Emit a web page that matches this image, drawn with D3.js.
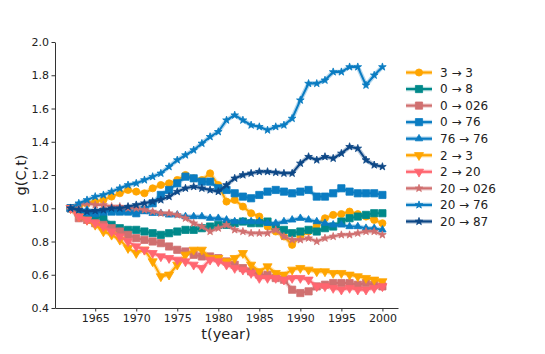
<!DOCTYPE html>
<html>
<head>
<meta charset="utf-8">
<script src="https://cdn.jsdelivr.net/npm/d3@7"></script>
<style>
  body { margin: 0; background: #fff; }
  svg { font-family: "DejaVu Sans", sans-serif; }
</style>
</head>
<body>
<svg id="chart" width="545" height="354"></svg>
<script>
const years = d3.range(1962, 2001);

const s3to3 = [1.00,1.01,1.03,1.04,1.05,1.07,1.09,1.11,1.10,1.09,1.12,1.14,1.15,1.17,1.20,1.18,1.17,1.21,1.14,1.04,1.05,1.01,0.97,0.95,0.89,0.86,0.83,0.78,0.83,0.86,0.90,0.94,0.96,0.965,0.98,0.965,0.95,0.93,0.91];
const s0to8 = [1.00,0.97,0.96,0.95,0.94,0.90,0.88,0.87,0.87,0.86,0.85,0.84,0.85,0.86,0.87,0.87,0.88,0.89,0.90,0.90,0.91,0.92,0.91,0.91,0.92,0.89,0.87,0.85,0.86,0.87,0.86,0.88,0.89,0.92,0.94,0.95,0.96,0.97,0.97];
const s0to026 = [1.00,0.94,0.93,0.91,0.90,0.88,0.86,0.84,0.82,0.81,0.80,0.79,0.77,0.75,0.74,0.72,0.71,0.71,0.70,0.68,0.66,0.64,0.62,0.60,0.60,0.58,0.57,0.51,0.49,0.50,0.53,0.54,0.55,0.55,0.55,0.54,0.55,0.54,0.53];
const s0to76 = [1.00,0.98,0.97,0.97,0.98,0.98,0.98,0.98,0.97,0.99,1.03,1.08,1.11,1.15,1.19,1.18,1.16,1.16,1.12,1.11,1.09,1.07,1.06,1.08,1.10,1.11,1.10,1.09,1.10,1.11,1.07,1.07,1.09,1.12,1.10,1.09,1.09,1.09,1.08];
const s76to76 = [1.00,0.99,0.99,0.98,0.99,0.99,0.98,0.98,0.98,0.98,0.97,0.97,0.96,0.96,0.95,0.95,0.95,0.94,0.94,0.93,0.92,0.92,0.92,0.92,0.91,0.91,0.92,0.93,0.94,0.93,0.92,0.91,0.90,0.90,0.89,0.89,0.88,0.88,0.87];
const s2to3 = [1.00,0.95,0.93,0.90,0.86,0.84,0.81,0.76,0.73,0.75,0.68,0.59,0.60,0.66,0.72,0.75,0.75,0.70,0.70,0.68,0.70,0.73,0.66,0.62,0.65,0.61,0.60,0.63,0.64,0.63,0.62,0.62,0.61,0.61,0.60,0.59,0.58,0.57,0.56];
const s2to20 = [1.00,0.95,0.93,0.91,0.89,0.86,0.83,0.80,0.77,0.75,0.73,0.71,0.70,0.69,0.68,0.66,0.64,0.69,0.68,0.66,0.64,0.63,0.61,0.58,0.58,0.58,0.57,0.58,0.58,0.57,0.53,0.53,0.52,0.51,0.52,0.51,0.51,0.52,0.53];
const s20to026 = [1.00,1.02,1.03,1.02,1.02,1.01,1.01,1.00,1.00,0.99,0.98,0.97,0.97,0.96,0.94,0.91,0.89,0.86,0.88,0.90,0.87,0.86,0.85,0.85,0.85,0.87,0.83,0.81,0.81,0.82,0.80,0.82,0.83,0.84,0.84,0.85,0.86,0.86,0.84];
const s20to76 = [1.00,1.03,1.05,1.07,1.08,1.10,1.12,1.14,1.15,1.17,1.19,1.21,1.25,1.29,1.32,1.35,1.39,1.43,1.46,1.53,1.56,1.53,1.50,1.49,1.47,1.49,1.50,1.54,1.65,1.75,1.75,1.77,1.82,1.82,1.85,1.85,1.74,1.80,1.85];
const s20to87 = [1.00,0.99,0.98,0.985,0.99,1.00,1.00,1.01,1.02,1.03,1.04,1.05,1.07,1.10,1.12,1.13,1.12,1.11,1.10,1.14,1.18,1.20,1.21,1.22,1.22,1.215,1.21,1.21,1.27,1.31,1.29,1.31,1.30,1.33,1.37,1.36,1.29,1.26,1.25];

const seriesNames = ['3 \u2192 3','0 \u2192 8','0 \u2192 026','0 \u2192 76','76 \u2192 76','2 \u2192 3','2 \u2192 20','20 \u2192 026','20 \u2192 76','20 \u2192 87'];
const seriesValues = [s3to3, s0to8, s0to026, s0to76, s76to76, s2to3, s2to20, s20to026, s20to76, s20to87];
const colors = ['#ffa500','#00898a','#d07070','#0a7cc2','#0a7cc2','#ffa500','#ff6670','#d07070','#0a7cc2','#0d4786'];
const markers = ['circle','square','square','square','triUp','triDown','triDown','star','star','star'];

const yTicks = [0.4,0.6,0.8,1.0,1.2,1.4,1.6,1.8,2.0];
const xTicks = [1965,1970,1975,1980,1985,1990,1995,2000];

const svg = d3.select('#chart');
const x = d3.scaleLinear().domain([1960.1, 2001.9]).range([55, 398]);
const y = d3.scaleLinear().domain([0.4, 2.0]).range([308, 42]);

function markerPath(kind) {
    if (kind === 'circle') return d3.symbol(d3.symbolCircle, 40)();
    if (kind === 'square') return d3.symbol(d3.symbolSquare, 52)();
    if (kind === 'triUp') return d3.symbol(d3.symbolTriangle, 24)();
    if (kind === 'triDown') return d3.symbol(d3.symbolTriangle, 36)();
    return d3.symbol(d3.symbolStar, 18)();
}

function drawMarker(g, kind, color, px, py) {
    g.append('path')
        .attr('d', markerPath(kind))
        .attr('transform', `translate(${px},${py})` + (kind === 'triDown' ? ' rotate(180)' : ''))
        .attr('fill', color)
        .attr('stroke', color)
        .attr('stroke-width', 0.8);
}

const line = d3.line().x(d => x(d.year)).y(d => y(d.v));

// series
const plot = svg.append('g');
seriesValues.forEach((vals, i) => {
    const pts = years.map((yr, j) => ({ year: yr, v: vals[j] }));
    const g = plot.append('g');
    g.append('path').datum(pts)
        .attr('d', line)
        .attr('fill', 'none')
        .attr('stroke', colors[i])
        .attr('stroke-opacity', 0.3)
        .attr('stroke-width', 4.5)
        .attr('stroke-linejoin', 'round');
    g.append('path').datum(pts)
        .attr('d', line)
        .attr('fill', 'none')
        .attr('stroke', colors[i])
        .attr('stroke-width', 2)
        .attr('stroke-linejoin', 'round');
    pts.forEach(p => drawMarker(g, markers[i], colors[i], x(p.year), y(p.v)));
});

// axes
const xAxis = d3.axisBottom(x).tickValues(xTicks).tickFormat(d3.format('d')).tickSize(3.5).tickSizeOuter(0);
const yAxis = d3.axisLeft(y).tickValues(yTicks).tickFormat(d3.format('.1f')).tickSize(3.5).tickSizeOuter(0);

const gx = svg.append('g').attr('transform', 'translate(0,308)').call(xAxis);
const gy = svg.append('g').attr('transform', 'translate(55,0)').call(yAxis);
[gx, gy].forEach(g => {
    g.attr('font-family', '"DejaVu Sans", sans-serif').attr('font-size', 11);
    g.select('.domain').attr('stroke', '#333').attr('stroke-width', 1);
    g.selectAll('.tick line').attr('stroke', '#333');
    g.selectAll('.tick text').attr('fill', '#222');
});
gy.selectAll('.tick text').attr('x', -6);

svg.append('text')
    .attr('x', 226).attr('y', 339)
    .attr('text-anchor', 'middle')
    .attr('font-size', 14.5)
    .attr('fill', '#222')
    .text('t(year)');

svg.append('text')
    .attr('transform', 'translate(26,175) rotate(-90)')
    .attr('text-anchor', 'middle')
    .attr('font-size', 14.5)
    .attr('fill', '#222')
    .text('g(C,t)');

// legend
const legend = svg.append('g');
seriesNames.forEach((name, i) => {
    const ly = 72.5 + i * 16.55;
    legend.append('line')
        .attr('x1', 406).attr('x2', 432).attr('y1', ly).attr('y2', ly)
        .attr('stroke', colors[i]).attr('stroke-opacity', 0.3).attr('stroke-width', 4.5);
    legend.append('line')
        .attr('x1', 406).attr('x2', 432).attr('y1', ly).attr('y2', ly)
        .attr('stroke', colors[i]).attr('stroke-width', 2.2);
    drawMarker(legend, markers[i], colors[i], 419, ly);
    legend.append('text')
        .attr('x', 440).attr('y', ly + 4.3)
        .attr('font-size', 12)
        .attr('fill', '#222')
        .text(name);
});
</script>
</body>
</html>
